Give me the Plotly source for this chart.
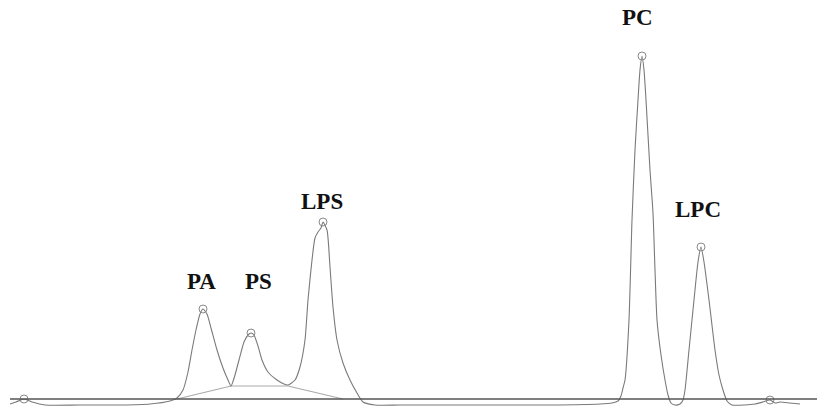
import plotly.graph_objects as go

# Chromatogram trace (retention position, detector signal; baseline = 0)
time = [10, 16, 24, 32, 45, 80, 120, 150, 170, 177, 183, 188, 192, 196, 200, 203, 207, 211, 217, 223,
        228, 231, 235, 239, 244, 248, 251, 254, 258, 262, 268, 277, 284, 288, 295, 300, 305, 308, 312, 315,
        318, 321, 323, 327, 330, 333, 337, 343, 350, 357, 363, 375, 400, 450, 500, 550, 600, 612, 618, 621,
        623, 625, 629, 632, 635, 638, 640, 642, 644, 646, 650, 653, 655, 657, 661, 665, 668, 671, 675, 680,
        683, 685, 689, 694, 698, 701, 704, 709, 715, 719, 723, 727, 732, 745, 755, 763, 770, 775, 780, 790, 800]
signal = [-5, -3, 0, -3, -6, -6, -6, -5, -2, 1, 9, 27, 49, 69, 85, 90, 85, 71, 49, 31,
          19, 13, 24, 39, 57, 64, 66, 64, 53, 39, 27, 19, 15, 14, 19, 32, 59, 99, 139, 161,
          167, 171, 177, 169, 132, 92, 59, 36, 19, 6, -3, -6, -6, -6, -6, -6, -5, -4, -2, 3,
          11, 19, 79, 179, 249, 299, 329, 343, 329, 299, 229, 186, 129, 79, 44, 19, 4, -4, -6, -5,
          -1, 9, 49, 99, 137, 152, 137, 99, 49, 24, 9, -2, -6, -6, -5, -3, -1, -4, -3, -4, -5]

# Integration baseline drawn under PA / PS / LPS
integ_time = [177, 231, 288, 343]
integ_signal = [0, 13, 13, 0]

# Detected peak apexes (circles)
peak_time = [24, 203, 251, 323, 642, 701, 770]
peak_signal = [0, 90, 66, 177, 343, 152, -1]

# Peak labels
labels = ["PA", "PS", "LPS", "PC", "LPC"]
label_time = [201, 258, 322, 637, 698]
label_signal = [118, 118, 198, 382, 190]

assert len(time) == len(signal)

fig = go.Figure()
fig.add_shape(type="line", x0=10, x1=817, y0=0, y1=0, xref="x", yref="y",
              line=dict(color="#555555", width=1.3))
fig.add_trace(go.Scatter(x=integ_time, y=integ_signal, mode="lines",
                         line=dict(color="#aaaaaa", width=1.2), hoverinfo="skip"))
fig.add_trace(go.Scatter(x=time, y=signal, mode="lines",
                         line=dict(color="#7a7a7a", width=1.1, shape="spline", smoothing=0.6)))
fig.add_trace(go.Scatter(x=peak_time, y=peak_signal, mode="markers",
                         marker=dict(symbol="circle-open", size=8, color="#8a8a8a", line=dict(width=1))))

for t, s, lab in zip(label_time, label_signal, labels):
    fig.add_annotation(x=t, y=s, text="<b>" + lab + "</b>", showarrow=False,
                       font=dict(family="Liberation Serif", size=23, color="#111111"),
                       xanchor="center", yanchor="middle")

fig.update_layout(
    width=817, height=407, margin=dict(l=0, r=0, t=0, b=0),
    paper_bgcolor="white", plot_bgcolor="white", showlegend=False,
    xaxis=dict(range=[0, 817], visible=False, fixedrange=True),
    yaxis=dict(range=[-8, 399], visible=False, fixedrange=True),
)
fig.write_html("out.html", config={"displayModeBar": False},
               post_script="document.body.style.margin='0';document.body.style.overflow='hidden';")
